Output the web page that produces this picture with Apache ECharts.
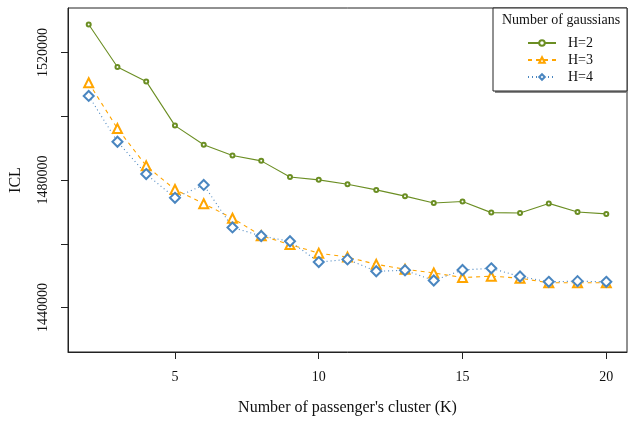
<!DOCTYPE html>
<html>
<head>
<meta charset="utf-8">
<script src="https://cdn.jsdelivr.net/npm/echarts@6/dist/echarts.min.js"></script>
<style>
html,body{margin:0;padding:0;background:#fff;}
#chart{width:628px;height:421px;}
</style>
</head>
<body>
<div id="chart"></div>
<script>
// 聚类数 K
var kValues = [2,3,4,5,6,7,8,9,10,11,12,13,14,15,16,17,18,19,20];
// ICL 数据
var iclH2 = [1528780,1515450,1510920,1497060,1491070,1487660,1486000,1480930,1480050,1478660,1476900,1474940,1472770,1473280,1469770,1469670,1472660,1469980,1469360];
var iclH3 = [1510490,1496130,1484440,1477000,1472560,1468000,1462540,1459750,1457060,1455820,1453550,1452000,1450850,1449400,1449830,1449210,1447750,1447750,1447750];
var iclH4 = [1506360,1492000,1481860,1474420,1478450,1465120,1462440,1460780,1454260,1455100,1451370,1451680,1448480,1451780,1452300,1449720,1448060,1448270,1448060];
var seriesNames = ['H=2','H=3','H=4'];
var xTicks = [5,10,15,20];
var yTicks = [1440000,1460000,1480000,1500000,1520000];
var yLabels = [1440000,1480000,1520000];

function pairs(ys){
    var out=[];
    for(var i=0;i<kValues.length;i++){
        out.push([kValues[i],ys[i]]);
    }
    return out;
}

var font='"Liberation Serif", serif';
var myChart = echarts.init(document.getElementById('chart'));
var option={
    animation:false,
    backgroundColor:'#fff',
    textStyle:{fontFamily:font},
    grid:{
        left:66, top:8, right:1, bottom:65,
        show:true, borderColor:'#222', borderWidth:1
    },
    xAxis:{
        type:'value',
        min:1.28, max:20.72,
        name:"Number of passenger's cluster (K)",
        nameLocation:'middle', nameGap:48,
        nameTextStyle:{fontFamily:font,fontSize:16,color:'#111'},
        axisLine:{show:true,onZero:false,lineStyle:{color:'#222'}},
        axisTick:{show:true,length:7,customValues:xTicks,lineStyle:{color:'#222'}},
        axisLabel:{customValues:xTicks,fontFamily:font,fontSize:14,color:'#111',margin:18,
            formatter:function(v){return String(v);}},
        splitLine:{show:false}
    },
    yAxis:{
        type:'value',
        min:1426050, max:1533950,
        name:'ICL',
        nameLocation:'middle', nameGap:44, nameRotate:90,
        nameTextStyle:{fontFamily:font,fontSize:16,color:'#111'},
        axisLine:{show:true,onZero:false,lineStyle:{color:'#222'}},
        axisTick:{show:true,length:7,customValues:yTicks,lineStyle:{color:'#222'}},
        axisLabel:{customValues:yLabels,rotate:90,fontFamily:font,fontSize:14,color:'#111',margin:18,
            formatter:function(v){return String(v);}},
        splitLine:{show:false}
    },
    legend:{
        orient:'vertical',
        left:522, top:31,
        itemWidth:28, itemHeight:7, itemGap:3,
        data:seriesNames,
        textStyle:{fontFamily:font,fontSize:14,color:'#111',padding:[0,0,0,7]}
    },
    graphic:[
        {type:'rect',shape:{x:495,y:10,width:134,height:83},style:{fill:'#888'},z:1},
        {type:'rect',shape:{x:493,y:8,width:134,height:83},style:{fill:'#fff',stroke:'#222',lineWidth:1},z:2},
        {type:'text',x:561,y:20,style:{text:'Number of gaussians',font:'14px "Liberation Serif", serif',fill:'#111',align:'center',verticalAlign:'middle'},z:3}
    ],
    series:[
        {
            name:seriesNames[0], type:'line', data:pairs(iclH2),
            symbol:'emptyCircle', symbolSize:4,
            color:'#6b8e23',
            itemStyle:{borderWidth:1},
            lineStyle:{width:1.1,type:'solid'},
            z:5
        },
        {
            name:seriesNames[1], type:'line', data:pairs(iclH3),
            symbol:'emptyTriangle', symbolSize:9,
            color:'#ffa500',
            itemStyle:{borderWidth:1},
            lineStyle:{width:1.1,type:[4,4]},
            z:5
        },
        {
            name:seriesNames[2], type:'line', data:pairs(iclH4),
            symbol:'emptyDiamond', symbolSize:10,
            color:'#4a86c0',
            itemStyle:{borderWidth:1},
            lineStyle:{width:1.1,type:[1,3]},
            z:5
        }
    ]
};
myChart.setOption(option);
</script>
</body>
</html>
